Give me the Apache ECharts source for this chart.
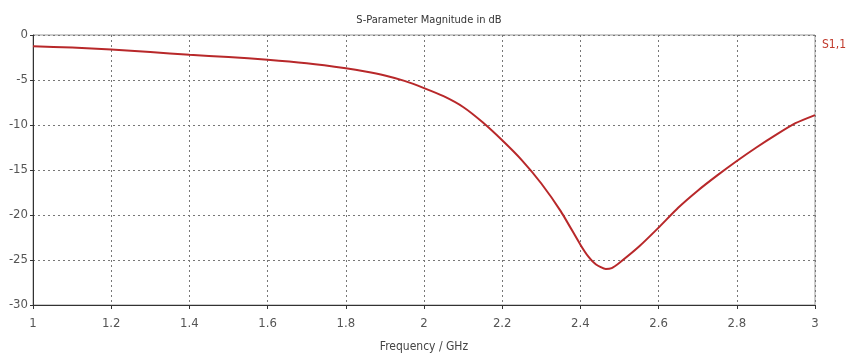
<!DOCTYPE html>
<html>
<head>
<meta charset="utf-8">
<script src="https://cdn.jsdelivr.net/npm/echarts@6/dist/echarts.min.js"></script>
<style>
html,body{margin:0;padding:0;background:#fff;}
#c{width:849px;height:358px;}
</style>
</head>
<body>
<div id="c"></div>
<script>
var chartTitle = 'S-Parameter Magnitude in dB';
var xName = 'Frequency / GHz';
var seriesName = 'S1,1';
var freq = [1.0, 1.1, 1.2, 1.3, 1.4, 1.5, 1.6, 1.7, 1.8, 1.85, 1.9, 1.95, 2.0, 2.05, 2.1, 2.15, 2.2, 2.25, 2.3, 2.35, 2.4, 2.42, 2.44, 2.465, 2.48, 2.5, 2.55, 2.6, 2.65, 2.7, 2.75, 2.8, 2.85, 2.9, 2.95, 3.0];
var s11 = [-1.25, -1.4, -1.6, -1.9, -2.2, -2.45, -2.75, -3.15, -3.7, -4.05, -4.5, -5.1, -5.9, -6.8, -8.0, -9.7, -11.7, -13.9, -16.5, -19.6, -23.3, -24.6, -25.5, -26.0, -25.9, -25.3, -23.5, -21.4, -19.2, -17.3, -15.6, -14.0, -12.5, -11.1, -9.8, -8.9];
var xTicks = ['1', '1.2', '1.4', '1.6', '1.8', '2', '2.2', '2.4', '2.6', '2.8', '3'];
var yTicks = ['-30', '-25', '-20', '-15', '-10', '-5', '0'];

var data = freq.map(function (f, i) { return [f, s11[i]]; });
var font = '"DejaVu Sans Condensed", sans-serif';
var chart = echarts.init(document.getElementById('c'));
chart.setOption({
  animation: false,
  backgroundColor: '#ffffff',
  title: {
    text: chartTitle, left: 424, top: 10, textAlign: 'center',
    textStyle: { fontSize: 11, fontWeight: 'normal', color: '#333', fontFamily: font }
  },
  graphic: [{
    type: 'text', right: 3, top: 39,
    style: { text: seriesName, fill: '#c0392b', font: '12px ' + font }
  }],
  grid: { left: 33, right: 34, top: 35, bottom: 51, show: true, borderColor: '#999', borderWidth: 1 },
  xAxis: {
    type: 'value', min: 1, max: 3, interval: 0.2,
    name: xName, nameLocation: 'middle', nameGap: 36,
    nameTextStyle: { fontSize: 12, color: '#444', fontFamily: font },
    axisLine: { show: true, onZero: false, lineStyle: { color: '#333', width: 1 } },
    axisTick: { show: true, length: 4, inside: false, lineStyle: { color: '#333' } },
    axisLabel: {
      fontSize: 13, color: '#555', fontFamily: font, margin: 12,
      formatter: function (v) { return xTicks[Math.round((v - 1) / 0.2)]; }
    },
    splitLine: { show: true, lineStyle: { color: '#777', type: [2, 3], width: 1 } }
  },
  yAxis: {
    type: 'value', min: -30, max: 0, interval: 5,
    axisLine: { show: true, onZero: false, lineStyle: { color: '#333', width: 1 } },
    axisTick: { show: true, length: 3, lineStyle: { color: '#333' } },
    axisLabel: {
      fontSize: 13, color: '#555', fontFamily: font, margin: 5,
      formatter: function (v) { return yTicks[Math.round((v + 30) / 5)]; }
    },
    splitLine: { show: true, lineStyle: { color: '#777', type: [2, 3], width: 1 } }
  },
  series: [{
    name: seriesName, type: 'line', data: data, smooth: 0.2, showSymbol: false,
    lineStyle: { color: '#b8282a', width: 2 }, z: 5
  }]
});
</script>
</body>
</html>
